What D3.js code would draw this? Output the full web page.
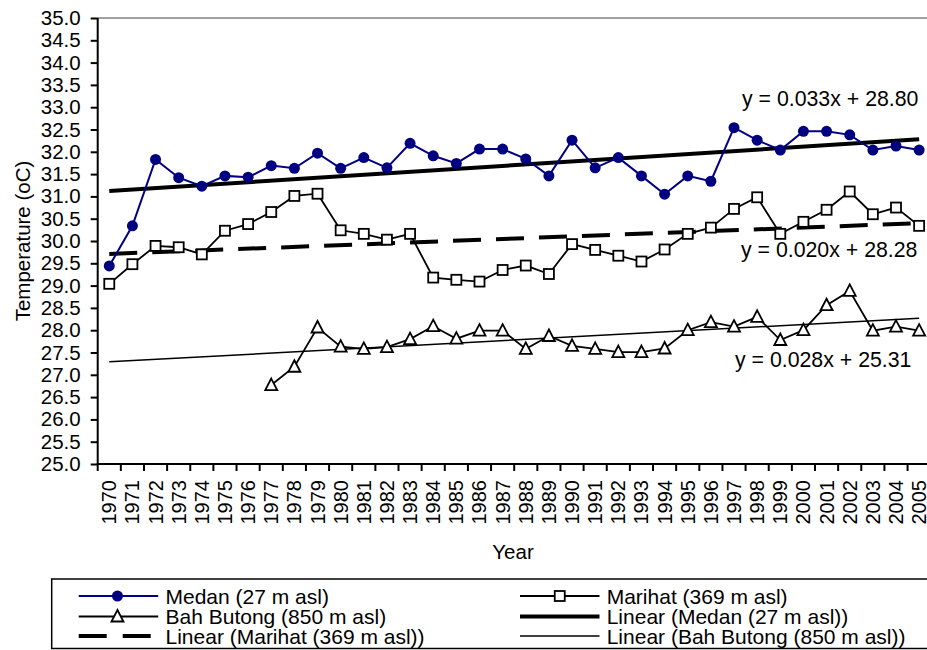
<!DOCTYPE html>
<html>
<head>
<meta charset="utf-8">
<script src="https://cdn.jsdelivr.net/npm/d3@7"></script>
<style>
  body { margin: 0; background: #fff; }
  svg { display: block; font-family: "Liberation Sans", Arial, sans-serif; }
</style>
</head>
<body>
<svg id="chart" width="927" height="650"></svg>
<script>
// data
const years = d3.range(1970, 2006);
const medan = [29.44, 30.34, 31.83, 31.42, 31.23, 31.46, 31.43, 31.69, 31.63, 31.97,
  31.63, 31.87, 31.64, 32.19, 31.91, 31.74, 32.06, 32.06, 31.84, 31.46,
  32.26, 31.64, 31.87, 31.46, 31.05, 31.46, 31.34, 32.54, 32.26, 32.04,
  32.46, 32.46, 32.38, 32.04, 32.13, 32.04];
const marihat = [29.04, 29.48, 29.89, 29.86, 29.70, 30.23, 30.38, 30.65, 31.01, 31.06,
  30.24, 30.16, 30.03, 30.16, 29.18, 29.13, 29.09, 29.35, 29.45, 29.26,
  29.93, 29.80, 29.67, 29.54, 29.81, 30.16, 30.30, 30.72, 30.98, 30.16,
  30.43, 30.70, 31.11, 30.60, 30.75, 30.34];
const bahButong = [null, null, null, null, null, null, null, 26.77, 27.18, 28.06,
  27.63, 27.58, 27.62, 27.80, 28.09, 27.81, 27.99, 27.99, 27.58, 27.87,
  27.65, 27.58, 27.51, 27.51, 27.59, 28.00, 28.18, 28.08, 28.30, 27.78,
  28.00, 28.56, 28.88, 27.99, 28.08, 27.99];
// trend lines: value at 1970 and at 2005
const trendMedan = [31.12, 32.28];
const trendMarihat = [29.71, 30.40];
const trendBahButong = [27.29, 28.27];
const equations = ["y = 0.033x + 28.80", "y = 0.020x + 28.28", "y = 0.028x + 25.31"];
const yTicks = d3.range(25, 35.01, 0.5);
const legendLabels = [
  "Medan (27 m asl)", "Marihat (369 m asl)",
  "Bah Butong (850 m asl)", "Linear (Medan (27 m asl))",
  "Linear (Marihat (369 m asl))", "Linear (Bah Butong (850 m asl))"
];

const svg = d3.select("#chart");
const plotLeft = 97.7, plotTop = 18, plotBottom = 464, plotRight = 930.7;

const x = d3.scaleBand().domain(years).range([plotLeft, plotRight]).padding(0);
const y = d3.scaleLinear().domain([25, 35]).range([plotBottom, plotTop]);
const cx = yr => x(yr) + x.bandwidth() / 2;

// plot frame top edge (grey)
svg.append("line")
  .attr("x1", plotLeft).attr("x2", 927)
  .attr("y1", plotTop).attr("y2", plotTop)
  .attr("stroke", "#808080").attr("stroke-width", 1.5);

// y axis
const yAxis = svg.append("g")
  .attr("transform", "translate(" + plotLeft + ",0)")
  .call(d3.axisLeft(y).tickValues(yTicks).tickFormat(d3.format(".1f")).tickSize(7).tickPadding(10));
yAxis.selectAll("text").style("font-size", "20.5px").style("font-family", "Liberation Sans, Arial, sans-serif").attr("fill", "#000");
yAxis.selectAll("line").attr("stroke", "#000").attr("stroke-width", 2);
yAxis.select(".domain").remove();
svg.append("line")
  .attr("x1", plotLeft).attr("x2", plotLeft).attr("y1", plotTop).attr("y2", plotBottom + 1)
  .attr("stroke", "#000").attr("stroke-width", 2);

// x axis
svg.append("line")
  .attr("x1", plotLeft - 1).attr("x2", 927).attr("y1", plotBottom).attr("y2", plotBottom)
  .attr("stroke", "#000").attr("stroke-width", 2);
svg.append("g").selectAll("line")
  .data(years)
  .enter().append("line")
  .attr("x1", d => x(d)).attr("x2", d => x(d))
  .attr("y1", plotBottom).attr("y2", plotBottom + 7)
  .attr("stroke", "#000").attr("stroke-width", 2);
svg.append("g").selectAll("text")
  .data(years)
  .enter().append("text")
  .attr("transform", d => "translate(" + cx(d) + "," + (plotBottom + 16) + ") rotate(-90)")
  .attr("text-anchor", "end")
  .attr("dy", "0.35em")
  .style("font-size", "20px")
  .text(d => d);

svg.append("text")
  .attr("x", 513).attr("y", 559)
  .attr("text-anchor", "middle")
  .style("font-size", "20.5px")
  .text("Year");

svg.append("text")
  .attr("transform", "translate(23,241) rotate(-90)")
  .attr("text-anchor", "middle")
  .attr("dy", "0.35em")
  .style("font-size", "20.5px")
  .text("Temperature (oC)");

// trend lines
function trend(vals, width, dash) {
  svg.append("line")
    .attr("x1", cx(years[0])).attr("y1", y(vals[0]))
    .attr("x2", cx(years[years.length - 1])).attr("y2", y(vals[1]))
    .attr("stroke", "#000").attr("stroke-width", width)
    .attr("stroke-dasharray", dash);
}
trend(trendMedan, 4, null);
trend(trendMarihat, 4, "28,15");
trend(trendBahButong, 1.5, null);

// series lines
const line = d3.line()
  .x(d => cx(d.year))
  .y(d => y(d.v));
const pts = arr => years.map((yr, i) => ({ year: yr, v: arr[i] })).filter(d => d.v !== null);

svg.append("path").attr("d", line(pts(bahButong)))
  .attr("fill", "none").attr("stroke", "#000").attr("stroke-width", 1.8);
svg.append("path").attr("d", line(pts(marihat)))
  .attr("fill", "none").attr("stroke", "#000").attr("stroke-width", 1.8);
svg.append("path").attr("d", line(pts(medan)))
  .attr("fill", "none").attr("stroke", "#000080").attr("stroke-width", 2);

const tri = "M0,-6.5L6,5L-6,5Z";

svg.append("g").selectAll("path")
  .data(pts(bahButong))
  .enter().append("path")
  .attr("d", tri)
  .attr("transform", d => "translate(" + cx(d.year) + "," + y(d.v) + ")")
  .attr("fill", "#fff").attr("stroke", "#000").attr("stroke-width", 1.8);

svg.append("g").selectAll("rect")
  .data(pts(marihat))
  .enter().append("rect")
  .attr("x", d => cx(d.year) - 5).attr("y", d => y(d.v) - 5)
  .attr("width", 10).attr("height", 10)
  .attr("fill", "#fff").attr("stroke", "#000").attr("stroke-width", 1.8);

svg.append("g").selectAll("circle")
  .data(pts(medan))
  .enter().append("circle")
  .attr("cx", d => cx(d.year)).attr("cy", d => y(d.v))
  .attr("r", 5.5)
  .attr("fill", "#000080");

// equation labels
const eqPos = [[742, 106], [741, 257], [735, 367]];
svg.append("g").selectAll("text")
  .data(equations)
  .enter().append("text")
  .attr("x", (d, i) => eqPos[i][0]).attr("y", (d, i) => eqPos[i][1])
  .style("font-size", "21.3px")
  .text(d => d);

// legend
svg.append("rect")
  .attr("x", 51.7).attr("y", 579).attr("width", 900).attr("height", 69.5)
  .attr("fill", "#fff").attr("stroke", "#000").attr("stroke-width", 1.5);

const rowY = [596, 616.5, 636];
const lg = svg.append("g");
legendLabels.forEach((label, i) => {
  const col = i % 2, row = Math.floor(i / 2);
  const x0 = col === 0 ? 78.7 : 520, x1 = x0 + 79.5, ym = rowY[row];
  const g = lg.append("g");
  const ln = g.append("line")
    .attr("x1", x0).attr("x2", x1).attr("y1", ym).attr("y2", ym)
    .attr("stroke", i === 0 ? "#000080" : "#000");
  if (i === 0) {
    ln.attr("stroke-width", 2);
    g.append("circle").attr("cx", (x0 + x1) / 2 - 1).attr("cy", ym).attr("r", 5.5).attr("fill", "#000080");
  } else if (i === 1) {
    ln.attr("stroke-width", 1.8);
    g.append("rect").attr("x", (x0 + x1) / 2 - 5).attr("y", ym - 5).attr("width", 10).attr("height", 10)
      .attr("fill", "#fff").attr("stroke", "#000").attr("stroke-width", 1.8);
  } else if (i === 2) {
    ln.attr("stroke-width", 1.8);
    g.append("path").attr("d", tri).attr("transform", "translate(" + ((x0 + x1) / 2 - 1) + "," + ym + ")")
      .attr("fill", "#fff").attr("stroke", "#000").attr("stroke-width", 1.8);
  } else if (i === 3) {
    ln.attr("stroke-width", 4);
  } else if (i === 4) {
    ln.attr("stroke-width", 4).attr("stroke-dasharray", "28,16");
  } else {
    ln.attr("stroke-width", 1.5);
  }
  g.append("text")
    .attr("x", col === 0 ? 165.5 : 606.7).attr("y", ym + 7.5)
    .style("font-size", "21px")
    .text(label);
});
</script>
</body>
</html>
